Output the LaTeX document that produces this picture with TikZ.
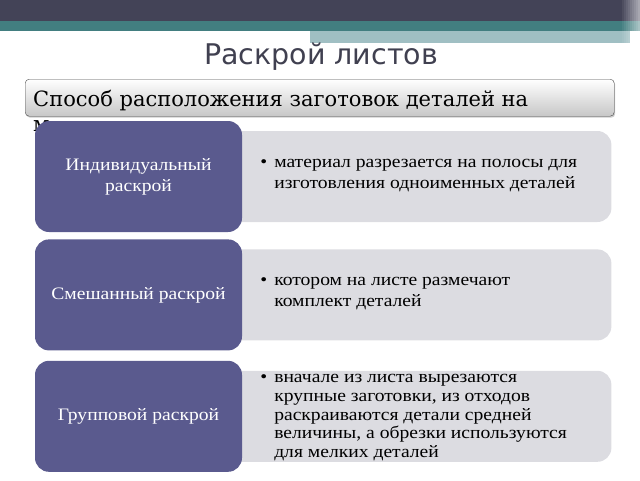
\documentclass[tikz,border=0pt]{standalone}
\usepackage{fontspec}
\setmainfont[FakeStretch=1.12]{Liberation Serif}
\newfontfamily\titlefont{DejaVu Sans}
\newfontfamily\boxfont{DejaVu Serif}
\usetikzlibrary{positioning,backgrounds,shadows}
\definecolor{barDark}{RGB}{67,67,87}
\definecolor{barTeal}{RGB}{66,126,128}
\definecolor{barLight}{RGB}{160,191,195}
\definecolor{kindFill}{RGB}{90,90,142}
\definecolor{noteFill}{RGB}{220,220,225}
\definecolor{titleInk}{RGB}{64,64,80}
\tikzset{
	kind/.style = {shape=rectangle, rounded corners=14pt, fill=kindFill,
		text=white, align=center, minimum width=207pt, minimum height=111pt,
		font=\fontsize{17.5}{21}\selectfont},
	note/.style = {shape=rectangle, rounded corners=14pt, fill=noteFill,
		minimum width=386pt, minimum height=91pt},
	notetext/.style = {anchor=west, inner sep=0pt, align=left,
		font=\fontsize{17.5}{21}\selectfont}
}
\begin{document}
\begin{tikzpicture}[x=1pt, y=-1pt, node distance=8pt]
	\useasboundingbox (0,0) rectangle (640,480);
	% header bars
	\fill[barDark] (0,0) rectangle (640,21);
	\fill[barTeal] (0,21) rectangle (640,31);
	\fill[barLight] (310,31) rectangle (630,43);
	\foreach \i in {0,...,9}
		\fill[white, opacity=0.06*\i] (620+2*\i,0) rectangle (622+2*\i,43);
	\node[font=\titlefont\fontsize{28.5}{32}\selectfont, text=titleInk] (title) at (321,57) {Раскрой листов};
	\node[draw=black!70, rounded corners=4pt, top color=white, bottom color=black!22,
		drop shadow={shadow xshift=1pt, shadow yshift=-1.5pt, opacity=0.4},
		minimum width=589pt, minimum height=37pt, anchor=north west] (method) at (25,79) {};
	\node[anchor=base west, inner sep=0pt, font=\boxfont\fontsize{21}{24}\selectfont] (methodtext) at (33,106) {Способ расположения заготовок деталей на};
	\node[anchor=base west, inner sep=0pt, font=\boxfont\fontsize{21}{24}\selectfont] (methodtail) at (33,131) {м};
	% kinds of cutting
	\node[kind] (single) at (138.5,176.5) {Индивидуальный\\раскрой};
	\node[kind, below=7pt of single] (mixed) {Смешанный раскрой};
	\node[kind, below=10pt of mixed] (group) {Групповой раскрой};
	\begin{scope}[on background layer]
		\node[note, right=-17pt of single] (singlenote) {};
		\node[note, right=-17pt of mixed] (mixednote) {};
		\node[note, right=-17pt of group] (groupnote) {};
	\end{scope}
	\node[notetext] (singletext) at ([xshift=35pt,yshift=3pt]singlenote.west) {\begin{tabular}{@{}l@{\hspace{7pt}}l@{}}
			\textbullet & материал разрезается на полосы для\\
			& изготовления одноименных деталей\end{tabular}};
	\node[notetext] (mixedtext) at ([xshift=35pt,yshift=3pt]mixednote.west) {\begin{tabular}{@{}l@{\hspace{7pt}}l@{}}
			\textbullet & котором на листе размечают\\
			& комплект деталей\end{tabular}};
	\node[notetext, font=\fontsize{17.5}{18.7}\selectfont] (grouptext) at ([xshift=35pt]groupnote.west) {\begin{tabular}{@{}l@{\hspace{7pt}}l@{}}
			\textbullet & вначале из листа вырезаются\\
			& крупные заготовки, из отходов\\
			& раскраиваются детали средней\\
			& величины, а обрезки используются\\
			& для мелких деталей\end{tabular}};
\end{tikzpicture}
\end{document}
